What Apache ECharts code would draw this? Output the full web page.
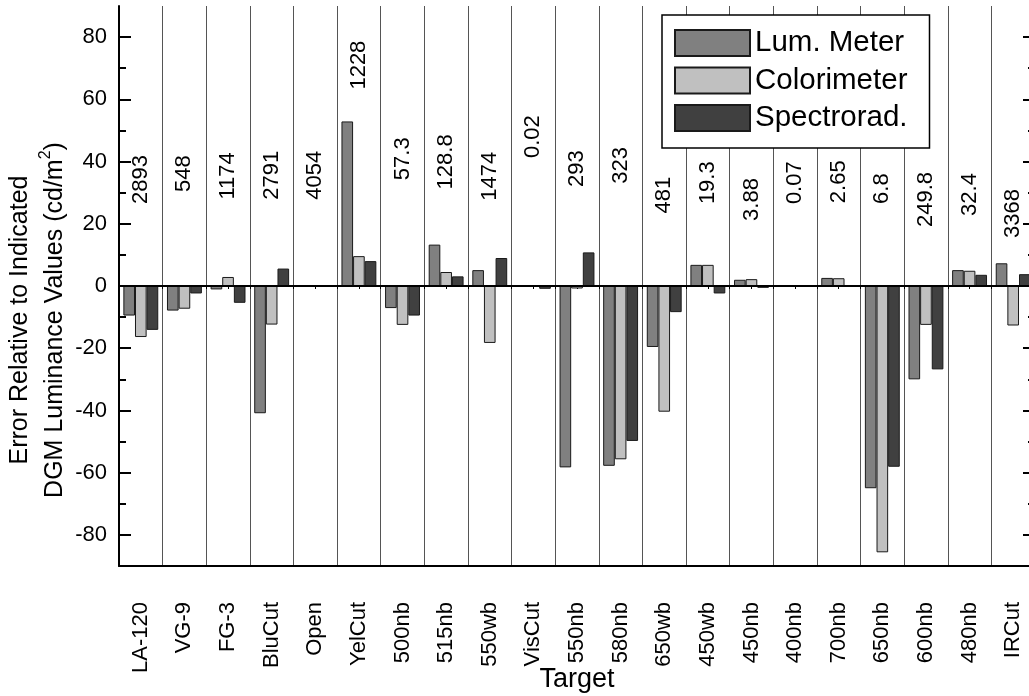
<!DOCTYPE html>
<html>
<head>
<meta charset="utf-8">
<script src="https://cdn.jsdelivr.net/npm/echarts@6/dist/echarts.min.js"></script>
<style>
html,body{margin:0;padding:0;background:#fff;}
#chart{width:1029px;height:696px;}
</style>
</head>
<body>
<div id="chart"></div>
<script>
var categories = ['LA-120','VG-9','FG-3','BluCut','Open','YelCut','500nb','515nb','550wb','VisCut','550nb','580nb','650wb','450wb','450nb','400nb','700nb','650nb','600nb','480nb','IRCut'];
var lumMeter    = [-9.5,-7.9,-1.1,-40.9,null,52.9,-7.1,13.3,5.1,null,-58.3,-57.8,-19.6,6.8,2.0,null,2.6,-65.0,-30.0,5.1,7.3];
var colorimeter = [-16.4,-7.3,2.9,-12.4,null,9.6,-12.5,4.5,-18.3,null,-0.8,-55.7,-40.4,6.8,2.2,null,2.5,-85.6,-12.5,4.9,-12.7];
var spectrorad  = [-14.1,-2.4,-5.4,5.6,null,8.0,-9.5,3.1,9.0,-0.9,10.8,-49.8,-8.4,-2.4,-0.6,null,-0.3,-58.1,-26.8,3.6,3.8];
var notes = ['2893','548','1174','2791','4054','1228','57.3','128.8','1474','0.02','293','323','481','19.3','3.88','0.07','2.65','6.8','249.8','32.4','3368'];
var noteY = [34.2,36.1,35.4,35.6,35.6,71,40.9,39.9,35.3,48.0,37.7,38.8,29.2,33.2,27.8,33.2,33.5,31.3,27.8,29.4,23.3];
var majorTicks = [-80,-60,-40,-20,0,20,40,60,80];
var minorTicks = [-70,-50,-30,-10,10,30,50,70];

var FONT = "'Liberation Sans', Arial, sans-serif";
var chart = echarts.init(document.getElementById('chart'), null, {renderer:'canvas'});

function yAx(pos, ticks, len, showLabel, showLine){
  return {
    type:'value', position:pos, min:-90, max:90,
    axisLine:{show:showLine, onZero:false, lineStyle:{color:'#000', width:2}},
    axisTick:{show:true, inside:true, length:len, customValues:ticks, lineStyle:{color:'#000', width:2}},
    axisLabel:{show:showLabel, customValues:ticks, margin:12, color:'#000', fontSize:22, fontFamily:FONT},
    splitLine:{show:false}
  };
}

var barStyle = function(c){ return {color:c, borderColor:'#1a1a1a', borderWidth:1}; };

var noteData = categories.map(function(c,i){ return {value:[c, noteY[i]], name:notes[i]}; });

var option = {
  animation:false,
  backgroundColor:'#fff',
  textStyle:{fontFamily:FONT},
  grid:{left:119, top:6, width:916, height:560, containLabel:false, outerBoundsMode:'none'},
  legend:{
    data:['Lum. Meter','Colorimeter','Spectrorad.'],
    orient:'vertical', left:662, top:15,
    itemWidth:75, itemHeight:26, itemGap:7.5,
    padding:[13,22,15,12],
    borderColor:'#000', borderWidth:1.5, backgroundColor:'#fff',
    icon:'rect',
    textStyle:{fontSize:29.5, color:'#000', fontFamily:FONT},
    z:10
  },
  xAxis:[{
    type:'category', data:categories, position:'bottom',
    axisLine:{onZero:false, lineStyle:{color:'#000', width:2}},
    axisTick:{alignWithLabel:true, inside:false, length:12, lineStyle:{color:'#000', width:2}},
    axisLabel:{rotate:90, margin:36, color:'#000', fontSize:22, fontFamily:FONT, interval:0},
    splitLine:{show:true, interval:0, lineStyle:{color:'#555', width:1}},
    name:'Target', nameLocation:'middle', nameGap:100, nameMoveOverlap:false,
    nameTextStyle:{fontSize:27, color:'#000', fontFamily:FONT}
  },{
    type:'value', position:'top', min:0, max:21, interval:0.5,
    axisLine:{show:true, lineStyle:{color:'#000', width:2}},
    axisTick:{show:true, inside:true, length:3, lineStyle:{color:'#000', width:1}},
    axisLabel:{show:false}, splitLine:{show:false}
  }],
  yAxis:[
    yAx('left', majorTicks, 12, true, true),
    yAx('left', minorTicks, 7, false, false),
    yAx('right', majorTicks, 12, false, true),
    yAx('right', minorTicks, 7, false, false)
  ],
  graphic:[{
    type:'text', x:38, y:320, rotation:Math.PI/2,
    style:{
      text:'Error Relative to Indicated\nDGM Luminance Values (cd/m{sup|2})',
      font:'25px ' + FONT, fill:'#000', align:'center', verticalAlign:'middle', lineHeight:35,
      rich:{sup:{fontSize:16, fontFamily:FONT, fill:'#000', verticalAlign:'top', lineHeight:35}}
    }
  }],
  series:[
    {name:'Lum. Meter', type:'bar', data:lumMeter, barGap:'0%', barCategoryGap:'20%', itemStyle:barStyle('#808080'),
     markLine:{silent:true, symbol:'none', label:{show:false}, data:[{yAxis:0}], lineStyle:{color:'#000', width:2, type:'solid'}}, z:3},
    {name:'Colorimeter', type:'bar', data:colorimeter, barGap:'0%', barCategoryGap:'20%', itemStyle:barStyle('#c0c0c0'), z:3},
    {name:'Spectrorad.', type:'bar', data:spectrorad, barGap:'0%', barCategoryGap:'20%', itemStyle:barStyle('#404040'), z:3},
    {name:'notes', type:'scatter', data:noteData, symbolSize:0, silent:true, itemStyle:{opacity:1},
     label:{show:true, position:'inside', rotate:90, formatter:function(p){return p.name;}, color:'#000', opacity:1, fontSize:22, fontFamily:FONT, align:'center', verticalAlign:'middle'}}
  ]
};
chart.setOption(option);
</script>
</body>
</html>
